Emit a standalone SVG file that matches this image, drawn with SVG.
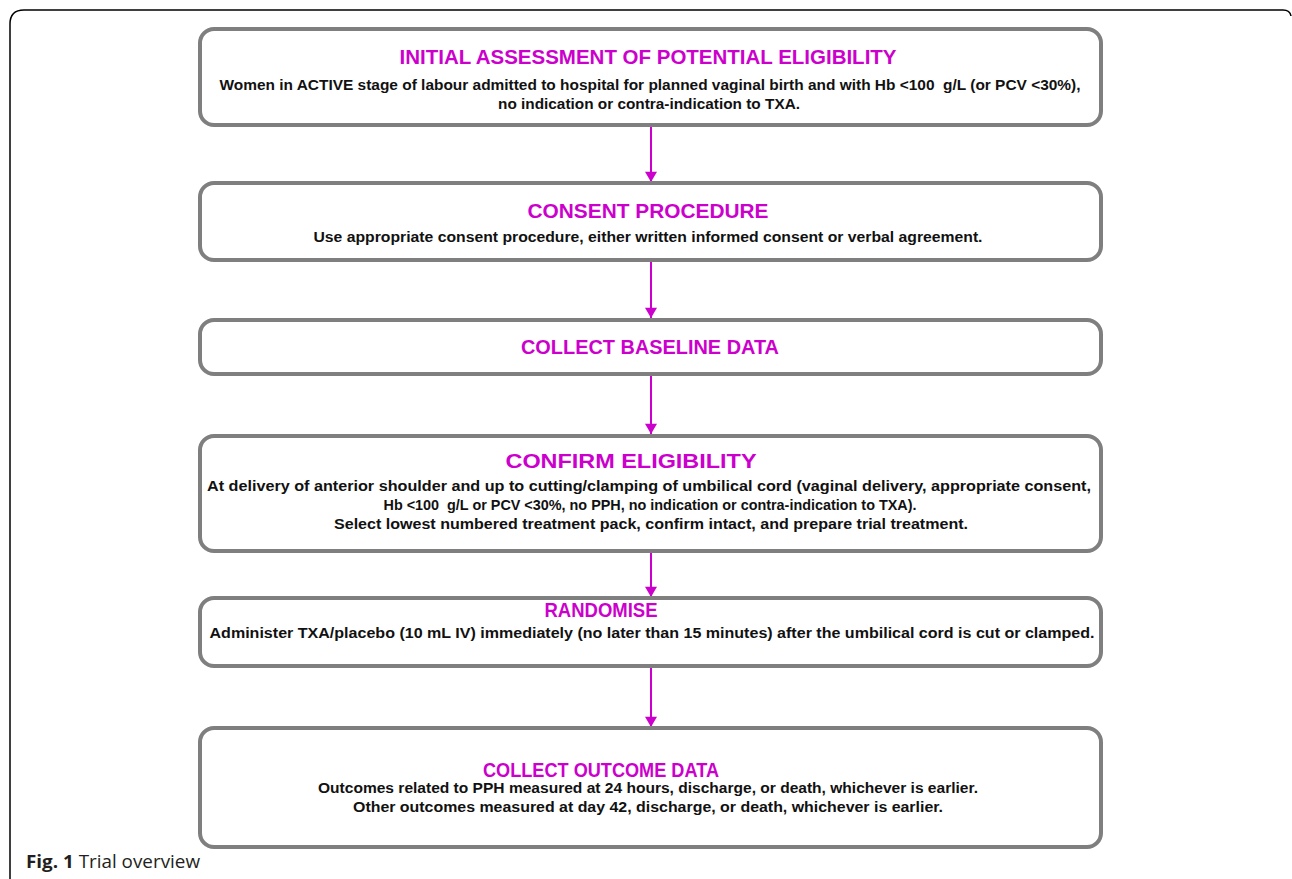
<svg xmlns="http://www.w3.org/2000/svg" width="1292" height="879" viewBox="0 0 1292 879">
<defs>
<style>
.box{fill:#fff;stroke:#7f7f7f;stroke-width:4}
.title{font-family:"Liberation Sans",Arial,sans-serif;font-weight:bold;font-size:20px;fill:#cc00cc;text-anchor:middle}
.body{font-family:"Liberation Sans",Arial,sans-serif;font-weight:bold;font-size:14.5px;fill:#111;text-anchor:middle}
.conn{stroke:#cc00cc;stroke-width:2;fill:none}
.cap{font-family:"Open Sans","Liberation Sans",sans-serif;font-size:18px;fill:#231f20}
</style>
<marker id="ah" viewBox="0 0 12 14" refX="12" refY="7" markerWidth="14" markerHeight="12" markerUnits="userSpaceOnUse" orient="auto">
<path d="M0,0 L12,7 L0,14 Z" fill="#cc00cc"/>
</marker>
</defs>
<rect width="1292" height="879" fill="#fff"/>
<path d="M10,879 L10,24 Q10,10 24,10 L1283,10 Q1290,10 1291,16" fill="none" stroke="#000" stroke-width="1.5"/>
<g id="connectors">
<line class="conn" x1="651" y1="126" x2="651" y2="182" marker-end="url(#ah)"/>
<line class="conn" x1="651" y1="261" x2="651" y2="318" marker-end="url(#ah)"/>
<line class="conn" x1="651" y1="375" x2="651" y2="434" marker-end="url(#ah)"/>
<line class="conn" x1="651" y1="552" x2="651" y2="597" marker-end="url(#ah)"/>
<line class="conn" x1="651" y1="667" x2="651" y2="727" marker-end="url(#ah)"/>
</g>
<g id="n1">
<rect class="box" x="200" y="29" width="901" height="96" rx="14"/>
<text class="title" x="648" y="64" textLength="497" lengthAdjust="spacingAndGlyphs">INITIAL ASSESSMENT OF POTENTIAL ELIGIBILITY</text>
<text class="body" x="650" y="90" textLength="861" lengthAdjust="spacingAndGlyphs">Women in ACTIVE stage of labour admitted to hospital for planned vaginal birth and with Hb &lt;100&#160; g/L (or PCV &lt;30%),</text>
<text class="body" x="649" y="109" textLength="302" lengthAdjust="spacingAndGlyphs">no indication or contra-indication to TXA.</text>
</g>
<g id="n2">
<rect class="box" x="200" y="183" width="901" height="77" rx="14"/>
<text class="title" x="648" y="218" textLength="241" lengthAdjust="spacingAndGlyphs">CONSENT PROCEDURE</text>
<text class="body" x="648" y="242" textLength="669" lengthAdjust="spacingAndGlyphs">Use appropriate consent procedure, either written informed consent or verbal agreement.</text>
</g>
<g id="n3">
<rect class="box" x="200" y="320" width="901" height="54" rx="14"/>
<text class="title" x="650" y="354" textLength="258" lengthAdjust="spacingAndGlyphs">COLLECT BASELINE DATA</text>
</g>
<g id="n4">
<rect class="box" x="200" y="436" width="901" height="115" rx="14"/>
<text class="title" x="631" y="468" textLength="251" lengthAdjust="spacingAndGlyphs">CONFIRM ELIGIBILITY</text>
<text class="body" x="649" y="491" textLength="884" lengthAdjust="spacingAndGlyphs">At delivery of anterior shoulder and up to cutting/clamping of umbilical cord (vaginal delivery, appropriate consent,</text>
<text class="body" x="650" y="510" textLength="533" lengthAdjust="spacingAndGlyphs">Hb &lt;100&#160; g/L or PCV &lt;30%, no PPH, no indication or contra-indication to TXA).</text>
<text class="body" x="651" y="529" textLength="634" lengthAdjust="spacingAndGlyphs">Select lowest numbered treatment pack, confirm intact, and prepare trial treatment.</text>
</g>
<g id="n5">
<rect class="box" x="200" y="598" width="901" height="68" rx="14"/>
<text class="title" x="601" y="617" textLength="113" lengthAdjust="spacingAndGlyphs">RANDOMISE</text>
<text class="body" x="652" y="638" textLength="885" lengthAdjust="spacingAndGlyphs">Administer TXA/placebo (10 mL IV) immediately (no later than 15 minutes) after the umbilical cord is cut or clamped.</text>
</g>
<g id="n6">
<rect class="box" x="200" y="728" width="901" height="119" rx="14"/>
<text class="title" x="601" y="777" textLength="236" lengthAdjust="spacingAndGlyphs">COLLECT OUTCOME DATA</text>
<text class="body" x="648" y="793" textLength="660" lengthAdjust="spacingAndGlyphs">Outcomes related to PPH measured at 24 hours, discharge, or death, whichever is earlier.</text>
<text class="body" x="648" y="812" textLength="590" lengthAdjust="spacingAndGlyphs">Other outcomes measured at day 42, discharge, or death, whichever is earlier.</text>
</g>
<text class="cap" x="26" y="868" textLength="174" lengthAdjust="spacingAndGlyphs"><tspan font-weight="bold">Fig. 1</tspan> Trial overview</text>
</svg>
